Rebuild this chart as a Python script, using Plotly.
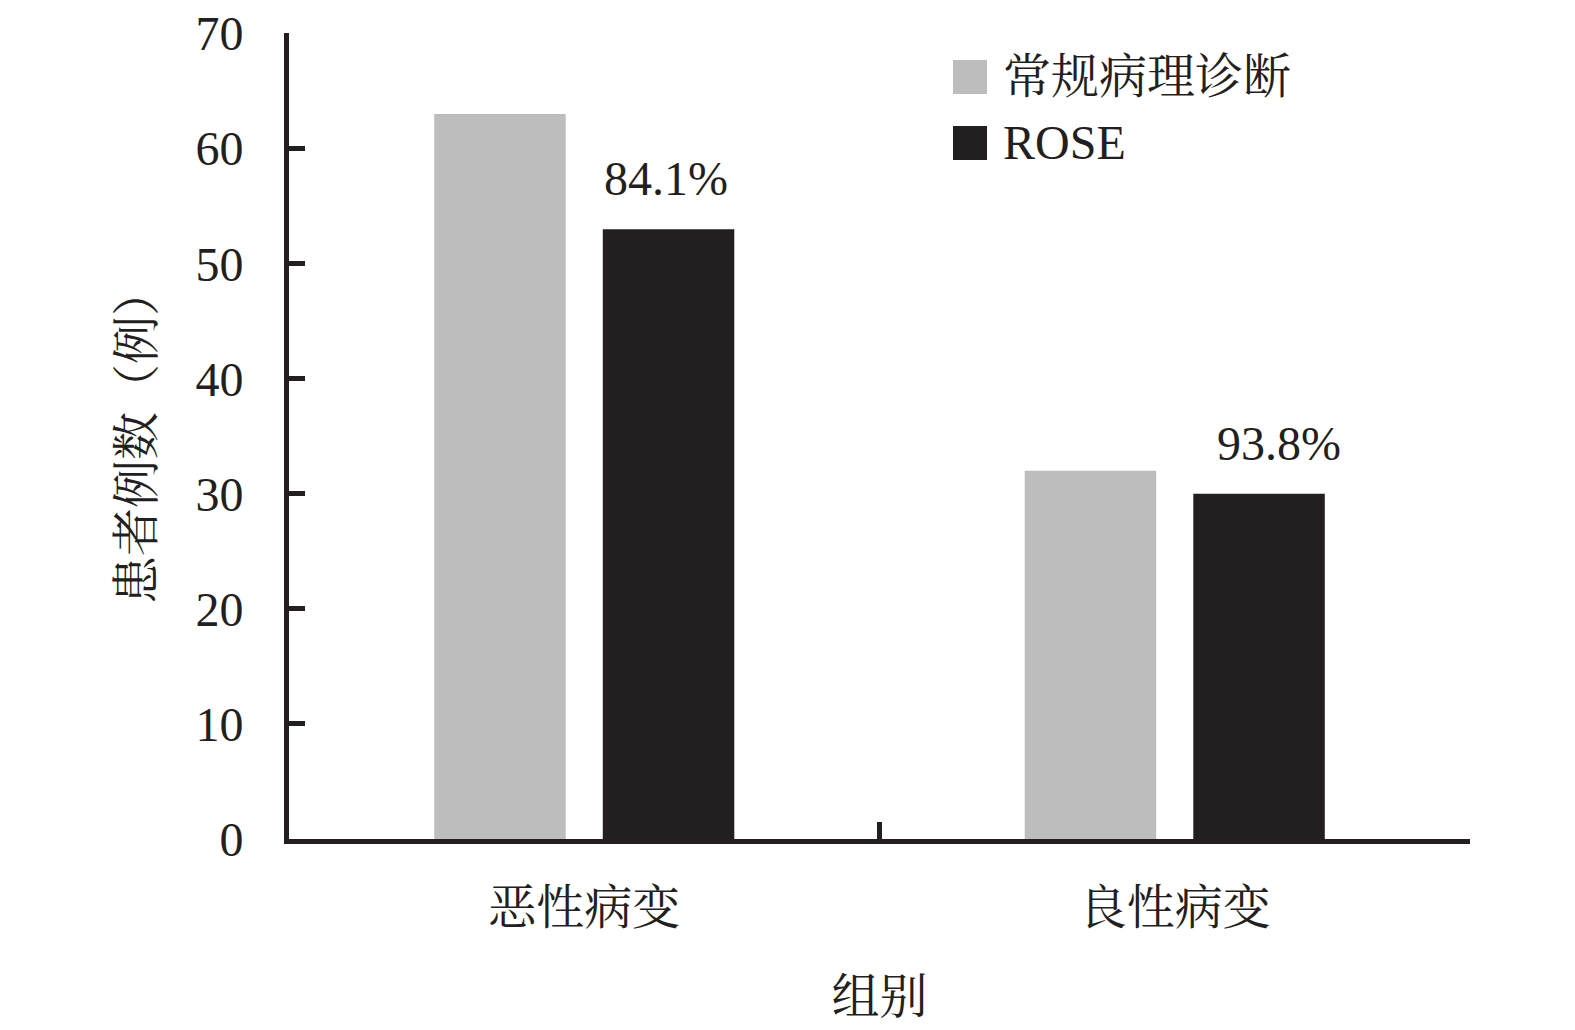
import plotly.graph_objects as go

categories = ["恶性病变", "良性病变"]
series_names = ["常规病理诊断", "ROSE"]
conventional = [63, 32]
rose = [53, 30]
rose_pct = ["84.1%", "93.8%"]
y_ticks = [0, 10, 20, 30, 40, 50, 60, 70]

GRAY = "#BDBDBD"
BLACK = "#231F20"
FONT = "Liberation Serif, Noto Serif CJK SC, Noto Sans CJK SC, serif"
label_xshift = [82, 104]  # style: horizontal offset of % labels from category centre

fig = go.Figure()
fig.add_trace(go.Bar(x=categories, y=conventional, name=series_names[0],
                     marker=dict(color=GRAY, line=dict(width=0)), showlegend=False))
fig.add_trace(go.Bar(x=categories, y=rose, name=series_names[1],
                     marker=dict(color=BLACK, line=dict(width=0)), showlegend=False))

# percentage labels above ROSE bars
for c, v, t, dx in zip(categories, rose, rose_pct, label_xshift):
    fig.add_annotation(x=c, y=v, xref="x", yref="y", text=t, showarrow=False,
                       xshift=dx, yshift=22, yanchor="bottom",
                       font=dict(family=FONT, size=48, color=BLACK))

# manual legend (positions relative to plot area)
L = 286.0; R = 1467.0; T = 35.0; B = 841.0
def px(xp): return (xp - L) / (R - L)
def py(yp): return (B - yp) / (B - T)
for i, (name, col) in enumerate(zip(series_names, [GRAY, BLACK])):
    y0 = 62 + i * 66
    fig.add_shape(type="rect", xref="paper", yref="paper",
                  x0=px(950), x1=px(984), y0=py(y0 + 34), y1=py(y0),
                  fillcolor=col, line=dict(width=0))
    fig.add_annotation(xref="paper", yref="paper", x=px(998), y=py(y0 + 17),
                       xanchor="left", yanchor="middle", text=name, showarrow=False,
                       font=dict(family=FONT, size=48, color=BLACK))

fig.update_layout(
    width=1575, height=1030,
    margin=dict(l=281, r=113, t=25, b=199, autoexpand=False),
    paper_bgcolor="white", plot_bgcolor="white",
    barmode="group", bargap=0.429, bargroupgap=0.22,
    font=dict(family=FONT, size=48, color=BLACK),
)
fig.update_xaxes(
    type="category", showline=True, linecolor=BLACK, linewidth=5,
    ticks="inside", tickson="boundaries", ticklen=17, tickwidth=5, tickcolor=BLACK,
    showgrid=False, zeroline=False, ticklabelstandoff=22, automargin=False,
    tickfont=dict(family=FONT, size=48, color=BLACK),
    title=dict(text="组别", font=dict(family=FONT, size=48, color=BLACK), standoff=48),
)
fig.update_yaxes(
    range=[0, 70.05], tickvals=y_ticks, showline=True, linecolor=BLACK, linewidth=5,
    ticks="inside", ticklen=16, tickwidth=5, tickcolor=BLACK,
    showgrid=False, zeroline=False, ticklabelstandoff=31, automargin=False,
    ticklabeloverflow="allow",
    tickfont=dict(family=FONT, size=48, color=BLACK),
    title=dict(text="患者例数（例）", font=dict(family=FONT, size=48, color=BLACK), standoff=28),
)

fig.write_html("out.html")
